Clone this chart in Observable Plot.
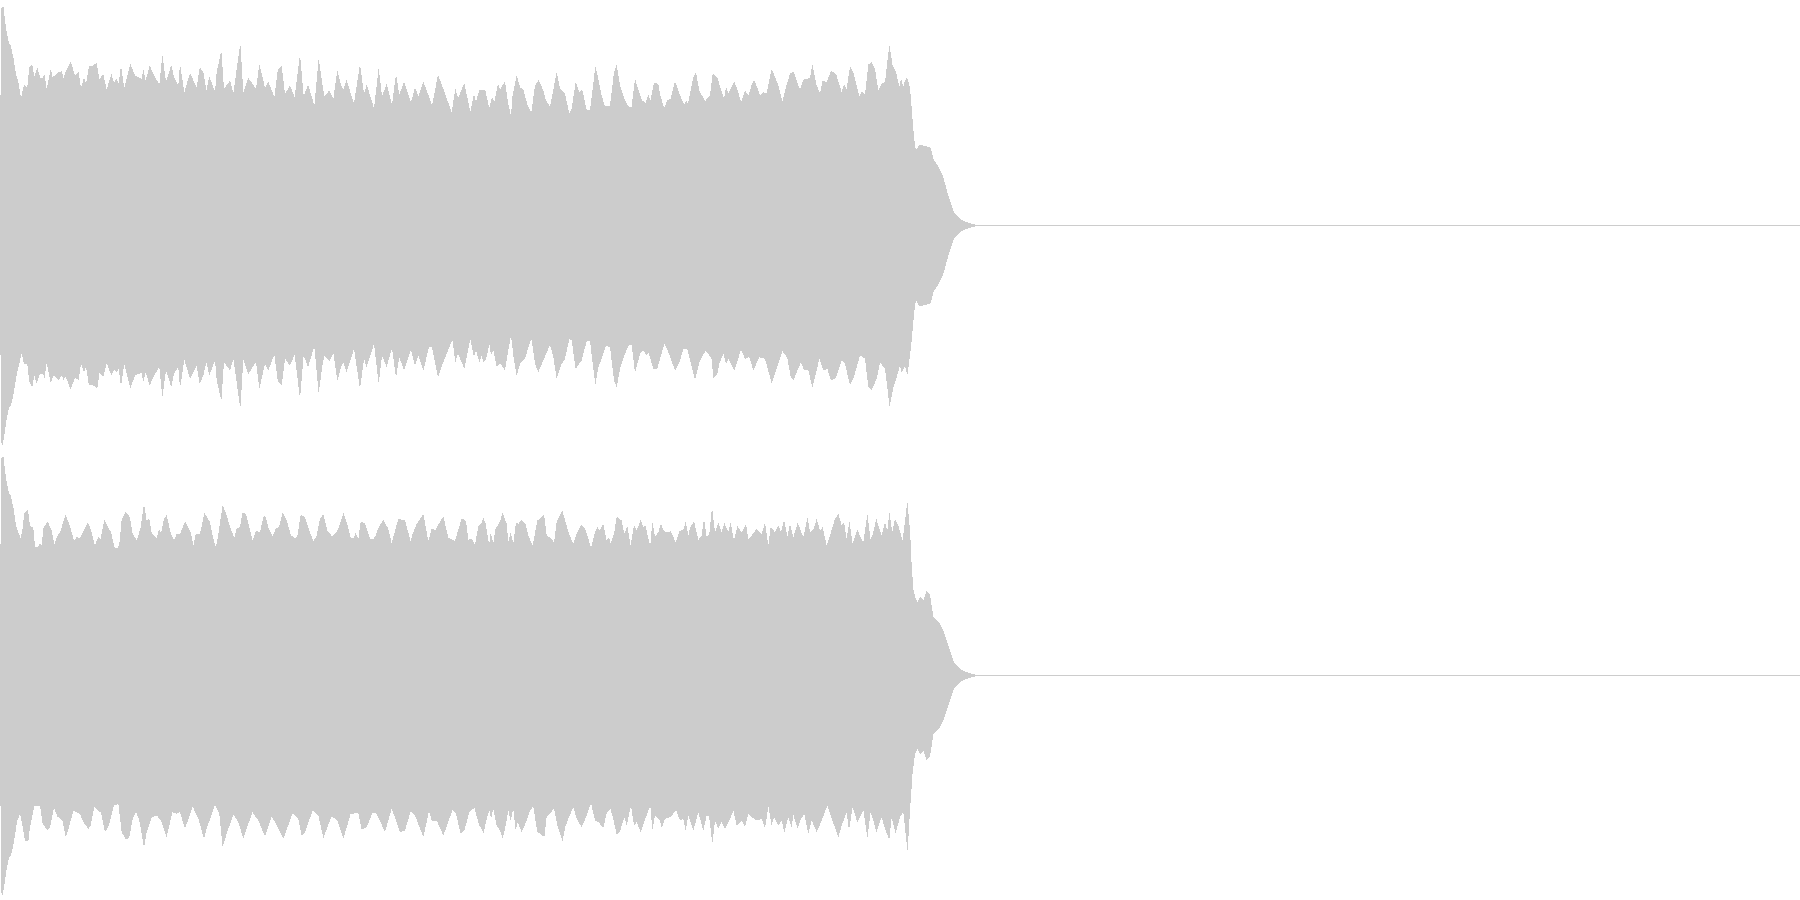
<!DOCTYPE html>
<html>
<head>
<meta charset="utf-8">
<script src="https://cdn.jsdelivr.net/npm/d3@7"></script>
<script src="https://cdn.jsdelivr.net/npm/@observablehq/plot@0.6"></script>
<style>
html,body{margin:0;padding:0;background:#fff;}
svg{display:block;}
</style>
</head>
<body>
<div id="chart"></div>
<script>
// Waveform envelopes, as flat lists: time, level, time, level, ...
const sampleRange = [0, 5400];
const levelRange = [-675, 675];
const waveColor = "#cccccc";

// decay tail shared in shape by the envelopes
const tailA = [2745,237,2749,227,2758,243,2780,237,2792,233,2800,200,2815,177,2830,145,2845,90,2862,40,2880,20,2900,10,2930,1.5,5400,1.5];
const tailB = [2745,237,2752,220,2762,237,2770,225,2780,255,2790,243,2795,210,2800,175,2810,165,2820,155,2832,130,2845,90,2862,40,2880,20,2900,10,2930,1.5,5400,1.5];

const ch1Upper = [0,123,3,650,10,660,15,615,20,580,27,545,32,540,40,505,48,455,55,430,63,382,72,422,82,415,88,475,97,483,103,447,112,475,120,445,127,440,133,455,140,410,152,470,158,445,176,460,186,463,190,440,197,462,212,492,225,450,236,460,243,412,252,445,258,425,267,480,278,480,290,488,298,438,310,455,320,407,334,455,342,430,350,440,356,425,363,480,373,412,391,485,405,450,425,440,430,470,437,435,449,480,462,450,478,423,487,513,498,432,514,482,522,445,535,420,540,485,553,400,570,458,590,413,599,474,610,462,619,405,628,447,645,402,650,460,664,525,672,410,690,435,700,397,721,548,730,400,745,443,768,410,778,485,795,413,805,432,823,385,833,465,845,480,855,395,870,420,884,385,900,515,911,388,924,423,943,360,956,503,968,418,973,387,988,405,1000,380,1012,465,1022,425,1030,407,1039,437,1062,367,1080,485,1092,395,1100,423,1122,352,1136,473,1146,388,1160,425,1176,363,1188,455,1198,392,1212,432,1233,370,1245,415,1255,387,1270,432,1287,387,1296,360,1314,452,1330,410,1355,340,1366,410,1374,382,1393,428,1411,340,1422,395,1428,372,1438,407,1456,405,1468,352,1476,385,1483,370,1494,425,
1500,408,1515,433,1523,375,1533,327,1537,385,1550,450,1560,415,1570,407,1583,360,1594,340,1605,420,1616,437,1630,405,1636,380,1650,355,1670,460,1680,410,1695,395,1708,337,1715,350,1727,430,1738,400,1747,407,1760,347,1770,345,1786,477,1793,450,1805,390,1815,357,1830,360,1842,460,1850,483,1860,420,1875,375,1887,355,1895,357,1905,440,1915,407,1925,377,1937,367,1945,393,1951,375,1962,428,1975,425,1980,395,1992,352,2002,375,2012,380,2025,433,2037,400,2046,375,2052,363,2058,375,2064,365,2080,445,2088,460,2098,405,2115,373,2130,390,2138,455,2152,445,2162,410,2172,380,2178,415,2185,397,2203,432,2215,400,2223,370,2235,405,2245,390,2257,428,2263,435,2275,405,2280,390,2290,400,2300,397,2315,470,2335,420,2347,372,2357,412,2370,455,2380,463,2400,407,2410,437,2430,443,2437,485,2450,420,2460,397,2468,435,2480,430,2493,463,2508,455,2515,433,2525,400,2532,423,2540,410,2550,477,2560,460,2578,387,2585,403,2595,393,2605,483,2615,490,2625,470,2635,405,2645,425,2655,430,2668,543,2678,480,2688,460,2698,417,2703,440,2710,417,2715,435,2721,445,2730,415,2735,353,2740,290];

const ch1Lower = [0,123,3,650,8,660,15,615,20,580,27,545,33,540,40,510,47,465,53,435,60,405,65,385,72,415,82,417,88,470,97,485,103,450,110,475,120,445,130,445,133,460,140,413,152,473,160,450,176,463,186,450,190,465,197,453,212,493,225,455,236,465,243,415,252,440,258,425,267,480,278,478,292,490,298,443,310,455,320,413,334,450,342,433,350,440,356,430,363,483,373,415,391,488,405,450,425,442,430,470,437,440,449,480,462,450,478,425,487,515,498,435,514,485,522,445,535,425,540,490,553,403,570,460,590,420,599,475,610,450,619,410,628,450,645,405,650,463,664,527,672,410,690,435,700,400,721,550,730,403,745,445,768,410,778,490,795,415,805,435,823,387,833,465,845,480,855,400,870,420,884,388,900,520,911,390,924,425,943,363,956,505,968,415,973,390,988,407,1000,382,1012,467,1022,428,1030,410,1040,440,1062,370,1080,490,1092,400,1100,425,1122,355,1136,475,1146,390,1160,425,1176,367,1188,457,1198,395,1212,435,1233,373,1245,420,1255,390,1270,435,1287,365,1296,365,1314,455,1330,410,1357,342,1366,410,1374,385,1393,430,1411,342,1422,395,1428,375,1438,410,
1445,390,1450,410,1458,403,1468,355,1473,388,1480,373,1490,425,1500,413,1515,435,1525,375,1533,330,1540,390,1550,450,1560,415,1575,400,1590,350,1595,343,1605,415,1615,440,1630,405,1650,358,1660,395,1670,460,1685,415,1695,400,1708,340,1715,345,1727,430,1745,405,1760,347,1770,347,1786,478,1795,425,1805,400,1818,360,1830,365,1842,465,1850,485,1860,430,1875,385,1887,357,1895,358,1905,443,1920,385,1930,375,1940,390,1945,380,1960,430,1972,430,1980,400,1993,355,2005,380,2025,435,2040,405,2050,370,2062,370,2085,463,2100,405,2117,375,2135,400,2140,457,2152,445,2158,415,2170,385,2178,415,2185,400,2203,435,2223,373,2235,400,2248,395,2260,435,2278,395,2295,400,2315,473,2330,430,2347,377,2362,397,2372,455,2380,465,2403,410,2412,435,2425,433,2437,488,2450,435,2458,400,2470,435,2482,430,2493,465,2508,457,2525,405,2535,415,2550,480,2560,460,2580,390,2595,400,2605,485,2615,493,2630,460,2640,410,2655,430,2669,545,2680,485,2690,455,2700,420,2705,443,2715,420,2722,450,2730,390,2735,345,2740,290];

const ch2Upper = [0,123,3,650,10,660,15,615,20,580,27,545,32,540,40,505,48,450,55,430,62,412,67,435,73,488,84,497,90,450,100,443,105,387,115,387,118,395,125,392,131,445,143,462,155,435,163,392,170,415,180,430,197,482,210,447,222,405,230,415,240,413,255,443,264,459,275,430,285,390,295,417,302,410,313,467,325,443,333,430,343,385,352,382,358,395,365,467,377,492,390,475,397,428,410,405,415,420,422,445,432,515,440,465,448,470,455,427,470,413,477,440,483,427,492,470,500,482,512,427,522,405,530,425,540,425,555,462,572,430,580,390,587,425,600,425,613,488,630,460,640,410,648,385,655,425,668,512,680,480,690,445,703,413,710,440,720,445,727,488,738,485,750,435,758,405,768,435,780,430,790,475,795,482,805,445,818,417,828,442,837,445,848,488,860,465,873,420,885,412,892,417,902,483,915,475,930,430,940,402,950,420,960,470,970,485,982,435,997,417,1010,430,1020,455,1030,488,1040,460,1052,413,1062,413,1067,430,1075,407,1082,462,1095,457,1110,410,1120,410,1127,420,1135,443,1150,467,1165,440,1175,397,1195,470,1215,465,1232,403,1238,425,1250,455,1270,485,1285,403,1295,442,1305,435,1330,478,1345,413,1365,403,1385,472,1398,463,1405,407,1415,410,1425,393,1435,448,
1443,455,1450,473,1457,455,1465,405,1468,397,1472,428,1480,397,1487,443,1493,450,1500,463,1508,488,1520,455,1525,400,1532,430,1540,397,1548,460,1555,455,1565,467,1577,455,1585,420,1598,390,1612,465,1622,473,1632,483,1640,420,1655,410,1662,397,1670,460,1687,495,1698,455,1708,423,1720,395,1730,425,1743,453,1755,440,1765,410,1773,383,1785,430,1792,445,1798,435,1810,455,1820,405,1827,415,1832,397,1843,430,1850,477,1865,465,1873,425,1882,450,1892,390,1902,450,1910,435,1922,467,1930,445,1937,450,1945,410,1951,390,1957,462,1965,415,1975,430,1983,455,1992,433,2005,430,2012,433,2027,400,2038,433,2050,437,2057,462,2065,420,2070,443,2082,463,2095,407,2105,420,2112,470,2120,415,2128,425,2136,505,2145,430,2155,460,2165,430,2173,458,2185,430,2192,458,2202,405,2212,448,2225,430,2238,455,2245,410,2255,420,2270,440,2285,425,2295,458,2305,390,2312,445,2325,430,2335,450,2343,430,2352,467,2362,417,2370,455,2380,415,2393,458,2410,415,2423,475,2430,430,2440,437,2450,470,2460,435,2468,445,2480,390,2492,427,2505,470,2515,485,2525,450,2532,460,2540,410,2548,463,2558,395,2572,437,2582,415,2590,400,2602,485,2612,407,2620,430,2629,470,2645,420,2655,460,2662,435,2668,490,2677,430,2685,470,2695,450,2708,405,2722,522,2728,460,2732,400,2735,330,2740,260];

const ch2Lower = [0,123,3,650,8,660,15,615,20,580,27,545,33,540,40,510,47,465,52,435,60,415,68,455,75,495,85,498,90,455,103,392,120,390,128,445,143,465,150,455,162,397,172,423,187,435,197,485,207,455,220,405,240,415,250,440,265,460,272,450,283,395,303,412,315,470,325,455,342,390,355,385,365,470,378,493,388,485,398,430,408,410,418,435,432,517,440,470,455,425,470,420,483,435,495,470,500,485,517,410,530,415,540,410,555,460,578,393,595,430,612,490,620,460,645,387,658,415,668,515,680,475,700,417,715,440,730,490,757,410,775,435,795,483,815,422,830,450,850,490,878,413,895,430,905,480,915,470,938,405,955,420,970,488,995,422,1012,435,1030,490,1052,415,1075,413,1085,463,1100,455,1118,410,1130,415,1155,470,1175,400,1190,440,1200,470,1215,465,1232,407,1245,420,1270,485,1287,407,1295,435,1310,435,1330,480,1358,403,1368,415,1382,475,1393,465,1408,410,1423,397,1438,450,
1443,455,1450,475,1460,430,1468,405,1473,430,1480,400,1490,450,1500,465,1508,490,1515,460,1525,405,1532,435,1540,400,1547,465,1553,440,1565,470,1580,435,1590,405,1600,393,1612,470,1622,475,1633,485,1640,425,1650,413,1662,400,1672,450,1688,497,1695,457,1705,430,1720,395,1730,430,1745,455,1760,420,1773,383,1785,435,1795,440,1810,457,1820,413,1831,400,1840,430,1850,478,1860,467,1873,425,1880,450,1893,390,1902,450,1910,440,1922,470,1930,447,1945,405,1951,390,1957,465,1965,420,1980,435,1985,457,1995,430,2012,425,2028,403,2040,435,2050,430,2057,465,2065,420,2080,465,2095,410,2110,465,2120,420,2127,420,2137,505,2145,435,2155,460,2165,440,2175,460,2188,435,2200,405,2210,450,2225,435,2235,455,2245,415,2255,425,2270,435,2285,430,2295,460,2305,393,2315,450,2322,425,2335,450,2345,435,2353,470,2365,425,2375,455,2380,418,2393,460,2403,430,2413,415,2425,475,2435,435,2450,470,2465,435,2482,390,2495,430,2510,470,2515,487,2525,450,2540,410,2547,465,2558,395,2572,440,2590,403,2602,488,2612,410,2620,435,2629,470,2645,425,2655,460,2668,493,2675,425,2687,473,2700,425,2710,410,2720,505,2723,525,2730,405,2735,335,2738,290];

function rows(flat, sign) {
  const out = [];
  for (let i = 0; i < flat.length; i += 2) out.push({t: flat[i], level: sign * flat[i + 1]});
  return out;
}

function channel(upper, lower) {
  const opts = {x: "t", y1: 0, y2: "level", fill: waveColor, curve: "linear", shapeRendering: "crispEdges"};
  return Plot.plot({
    width: 1800,
    height: 450,
    margin: 0,
    style: {background: "#fff"},
    x: {domain: sampleRange, range: [0, 1800], axis: null},
    y: {domain: levelRange, range: [450.5, 0.5], axis: null},
    marks: [
      Plot.areaY(rows(upper, 1), opts),
      Plot.areaY(rows(lower, -1), opts)
    ]
  });
}

const root = document.getElementById("chart");
root.append(channel(ch1Upper.concat(tailA), ch1Lower.concat(tailA)));
root.append(channel(ch2Upper.concat(tailB), ch2Lower.concat(tailB)));
</script>
</body>
</html>
